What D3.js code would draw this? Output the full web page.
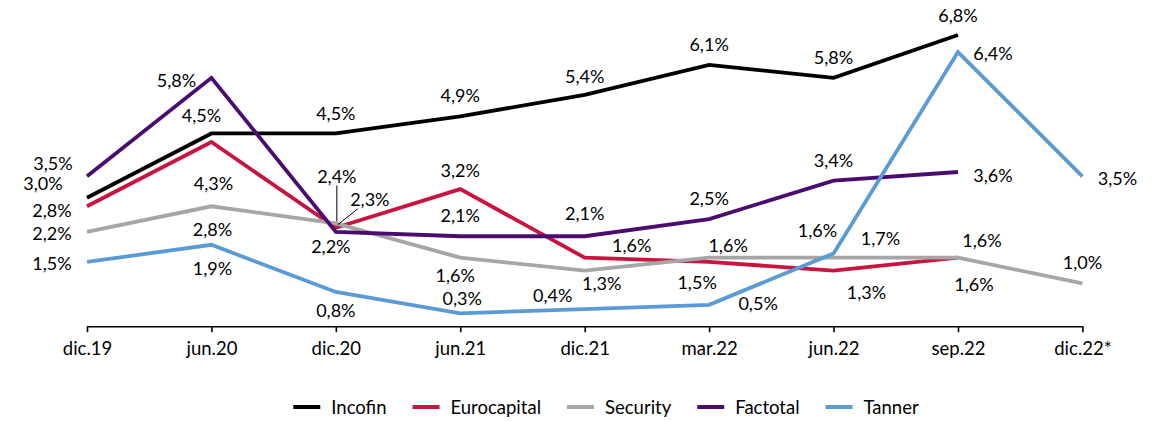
<!DOCTYPE html>
<html>
<head>
<meta charset="utf-8">
<script src="https://cdn.jsdelivr.net/npm/d3@7"></script>
<style>
  html, body { margin: 0; padding: 0; background: #fff; }
  svg { display: block; }
  text { font-family: Lato, "Open Sans", sans-serif; fill: #000; }
</style>
</head>
<body>
<svg id="chart" width="1166" height="421"></svg>
<script>
// ---- data ----
const categories = ["dic.19","jun.20","dic.20","jun.21","dic.21","mar.22","jun.22","sep.22","dic.22*"];
const seriesNames = ["Incofin","Eurocapital","Security","Factotal","Tanner"];
const incofin     = [3.0, 4.5, 4.5, 4.9, 5.4, 6.1, 5.8, 6.8, null];
const eurocapital = [2.8, 4.3, 2.3, 3.2, 1.6, 1.5, 1.3, 1.6, null];
const security    = [2.2, 2.8, 2.4, 1.6, 1.3, 1.6, 1.6, 1.6, 1.0];
const factotal    = [3.5, 5.8, 2.2, 2.1, 2.1, 2.5, 3.4, 3.6, null];
const tanner      = [1.5, 1.9, 0.8, 0.3, 0.4, 0.5, 1.7, 6.4, 3.5];

// ---- styling / layout (not data) ----
const colors = ["#000000", "#C8143F", "#A6A6A6", "#4A0C6E", "#5B9BD5"];
const labelOffsets = [
  [[-44,-15],[-10,-18],[0,-20],[0,-21],[0,-19],[0,-21],[0,-21],[0,-20]],
  [[-35,4],[2,41],[34,-29],[0,-19],[47,-13],[-12,20],[33,21],[16,26]],
  [[-35,1],[1,23],[1,-47],[-5,17],[17,12],[19,-13],[-16,-28],[24,-18],[0,-21]],
  [[-34,-13],[-35,2],[-5,14],[0,-21],[0,-23],[0,-21],[0,-21],[35,3]],
  [[-35,1],[1,23],[0,18],[2,-15],[-32,-14],[49,-2],[47,-15],[35,1],[35,2]]
];
// leader lines: [seriesIndex, pointIndex, startDx, startDy (from label centre), endDx, endDy (from point)]
const leaders = [[2,2,0,9,1,-2],[1,2,-12,10,2,-3]];

const svg = d3.select("#chart");
svg.append("rect").attr("width",1166).attr("height",421).attr("fill","#fff");

const x = d3.scalePoint().domain(categories).range([87, 1082.4]);
const y = d3.scaleLinear().domain([0, 7]).range([326.2, 326.2 - 7*42.83]);

// axis
const axis = d3.axisBottom(x).tickSizeInner(6).tickSizeOuter(0).tickPadding(10);
const gAxis = svg.append("g").attr("transform", `translate(0,${y(0)})`).call(axis);
gAxis.select(".domain").attr("stroke","#000").attr("stroke-width",1.6);
gAxis.selectAll(".tick line").attr("stroke","#000").attr("stroke-width",1.6);
gAxis.selectAll(".tick text").attr("font-family","Lato, sans-serif").attr("font-size",18.5).attr("fill","#000");

const allSeries = [incofin, eurocapital, security, factotal, tanner];
const fmt = v => d3.format(".1f")(v).replace(".", ",") + "%";

const line = d3.line()
  .defined(d => d.v !== null)
  .x(d => x(d.c))
  .y(d => y(d.v));

allSeries.forEach((vals, si) => {
  const pts = vals.map((v, i) => ({c: categories[i], v}));
  svg.append("path")
    .datum(pts)
    .attr("d", line)
    .attr("fill","none")
    .attr("stroke", colors[si])
    .attr("stroke-width", 3.8)
    .attr("stroke-linejoin","miter");
});

// leader lines
leaders.forEach(([si, pi, sdx, sdy, edx, edy]) => {
  const v = allSeries[si][pi];
  const px = x(categories[pi]), py = y(v);
  const [ldx, ldy] = labelOffsets[si][pi];
  svg.append("line")
    .attr("x1", px + ldx + sdx).attr("y1", py + ldy + sdy)
    .attr("x2", px + edx).attr("y2", py + edy)
    .attr("stroke","#000").attr("stroke-width",1);
});

// data labels
allSeries.forEach((vals, si) => {
  vals.forEach((v, i) => {
    if (v === null) return;
    const [dx, dy] = labelOffsets[si][i];
    svg.append("text")
      .attr("x", x(categories[i]) + dx)
      .attr("y", y(v) + dy)
      .attr("text-anchor","middle")
      .attr("dominant-baseline","central")
      .attr("font-size", 18)
      .text(fmt(v));
  });
});

// legend
const legendY = 407;
const lg = svg.append("g");
const items = lg.selectAll("g").data(seriesNames).join("g");
items.append("line").attr("x1",0).attr("x2",27).attr("y1",0).attr("y2",0)
  .attr("stroke",(d,i)=>colors[i]).attr("stroke-width",4);
items.append("text").attr("x",38).attr("y",0).attr("dominant-baseline","central")
  .attr("font-size",18.5).text(d=>d);
const widths = [];
items.each(function(){ widths.push(38 + this.querySelector("text").getComputedTextLength()); });
const gap = 26;
const total = d3.sum(widths) + gap*(widths.length-1);
let start = 606 - total/2;
items.attr("transform",(d,i)=>{
  const t = `translate(${start},${legendY})`;
  start += widths[i] + gap;
  return t;
});
</script>
</body>
</html>
